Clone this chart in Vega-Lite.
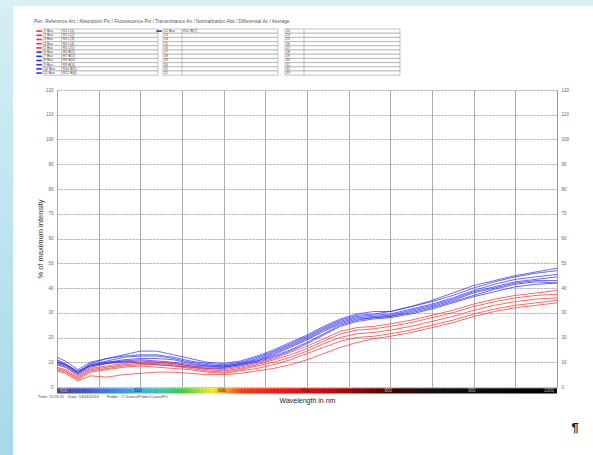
{
"$schema": "https://vega.github.io/schema/vega-lite/v6.json",
"width": 500,
"height": 297,
"autosize": {"type": "none"},
"padding": {"left": 57, "top": 90, "right": 36, "bottom": 68},
"background": "white",
"config": {"font": "Liberation Sans", "view": {"stroke": null}},
"datasets": {
"curves": [
{"wl":400,"B1":12,"B2":11,"B3":10,"B4":9.5,"B5":10.5,"B6":9,"B7":10,"R1":9,"R2":8,"R3":7.5,"R4":7,"R5":6.5},
{"wl":410,"B1":10.5,"B2":9.5,"B3":9,"B4":8.5,"B5":9,"B6":8,"B7":9,"R1":8,"R2":7,"R3":6.5,"R4":6,"R5":5.5},
{"wl":425,"B1":7,"B2":6,"B3":5.5,"B4":5.5,"B5":6.5,"B6":5,"B7":6,"R1":4.5,"R2":4,"R3":3.5,"R4":3,"R5":2.5},
{"wl":440,"B1":10,"B2":9.5,"B3":9,"B4":8.5,"B5":8.5,"B6":8,"B7":9,"R1":7.5,"R2":7,"R3":6.5,"R4":6,"R5":4.5},
{"wl":460,"B1":11.5,"B2":11.5,"B3":10.5,"B4":10,"B5":9.5,"B6":9.5,"B7":10,"R1":8.5,"R2":8,"R3":7.5,"R4":7,"R5":4},
{"wl":480,"B1":13,"B2":12.5,"B3":12,"B4":11,"B5":10,"B6":10.5,"B7":10.5,"R1":9.5,"R2":9,"R3":8.5,"R4":8,"R5":5},
{"wl":500,"B1":14.5,"B2":13,"B3":12.5,"B4":11.5,"B5":10.5,"B6":11,"B7":9.5,"R1":10,"R2":9.5,"R3":9,"R4":8.5,"R5":5.5},
{"wl":520,"B1":14.5,"B2":13,"B3":12.5,"B4":11.5,"B5":10,"B6":10.5,"B7":9,"R1":10,"R2":9.5,"R3":9,"R4":8,"R5":6},
{"wl":540,"B1":13,"B2":12,"B3":11.5,"B4":11,"B5":9.5,"B6":10,"B7":8.5,"R1":9.5,"R2":9,"R3":8.5,"R4":7.5,"R5":6},
{"wl":560,"B1":11.5,"B2":10.5,"B3":10,"B4":9.5,"B5":8.5,"B6":9,"B7":8,"R1":8.5,"R2":8,"R3":7.5,"R4":7,"R5":5.5},
{"wl":580,"B1":10,"B2":9.5,"B3":9,"B4":8.5,"B5":8,"B6":8.5,"B7":7.5,"R1":7.5,"R2":7,"R3":6.5,"R4":6,"R5":5},
{"wl":600,"B1":9.5,"B2":9,"B3":8.5,"B4":8.5,"B5":8,"B6":8,"B7":7.5,"R1":7,"R2":6.5,"R3":6,"R4":5.5,"R5":5},
{"wl":620,"B1":10.5,"B2":10,"B3":9.5,"B4":9.5,"B5":9,"B6":9,"B7":8.5,"R1":8,"R2":7.5,"R3":7,"R4":6.5,"R5":5.5},
{"wl":640,"B1":12.5,"B2":12,"B3":11.5,"B4":11,"B5":10.5,"B6":10.5,"B7":10,"R1":9.5,"R2":9,"R3":8.5,"R4":7.5,"R5":6.5},
{"wl":660,"B1":15,"B2":14.5,"B3":14,"B4":13.5,"B5":13,"B6":12.5,"B7":12,"R1":11.5,"R2":11,"R3":10,"R4":9,"R5":7.5},
{"wl":680,"B1":18,"B2":17.5,"B3":17,"B4":16.5,"B5":16,"B6":15,"B7":14.5,"R1":14,"R2":13,"R3":12,"R4":11,"R5":9},
{"wl":700,"B1":21,"B2":20.5,"B3":20,"B4":19.5,"B5":19,"B6":18,"B7":17.5,"R1":16.5,"R2":15.5,"R3":14.5,"R4":13.5,"R5":11},
{"wl":720,"B1":24.5,"B2":24,"B3":23.5,"B4":23,"B5":22.5,"B6":21.5,"B7":21,"R1":19.5,"R2":18.5,"R3":17.5,"R4":16,"R5":13.5},
{"wl":740,"B1":27.5,"B2":27,"B3":26.5,"B4":26,"B5":25.5,"B6":25,"B7":24.5,"R1":22.5,"R2":21.5,"R3":20,"R4":18.5,"R5":16},
{"wl":760,"B1":29.5,"B2":29,"B3":28.5,"B4":28,"B5":27.5,"B6":27,"B7":26.5,"R1":24,"R2":23,"R3":21.5,"R4":20,"R5":18},
{"wl":780,"B1":30.5,"B2":29.5,"B3":29,"B4":28.5,"B5":28,"B6":28,"B7":27.5,"R1":24.5,"R2":23.5,"R3":22,"R4":20.5,"R5":19.5},
{"wl":800,"B1":30.5,"B2":30.5,"B3":29.5,"B4":29,"B5":28.5,"B6":28.5,"B7":28,"R1":25.5,"R2":24.5,"R3":23,"R4":21.5,"R5":20.5},
{"wl":825,"B1":32.5,"B2":32.5,"B3":31.5,"B4":31,"B5":30.5,"B6":30,"B7":29.5,"R1":27,"R2":26,"R3":24.5,"R4":23,"R5":22},
{"wl":850,"B1":34.5,"B2":35,"B3":33.5,"B4":33,"B5":32.5,"B6":32,"B7":31.5,"R1":29,"R2":28,"R3":26.5,"R4":25,"R5":24},
{"wl":875,"B1":37,"B2":38,"B3":36,"B4":35.5,"B5":35,"B6":34.5,"B7":34,"R1":31,"R2":30,"R3":28.5,"R4":27,"R5":26},
{"wl":900,"B1":40,"B2":41,"B3":39,"B4":38.5,"B5":38,"B6":37,"B7":36.5,"R1":33.5,"R2":32.5,"R3":31,"R4":29.5,"R5":28.5},
{"wl":925,"B1":42.5,"B2":43,"B3":41.5,"B4":40.5,"B5":40,"B6":39.5,"B7":38.5,"R1":35.5,"R2":34.5,"R3":33,"R4":31.5,"R5":30.5},
{"wl":950,"B1":44.5,"B2":45,"B3":43.5,"B4":42.5,"B5":42,"B6":41.5,"B7":40.5,"R1":37,"R2":36,"R3":34.5,"R4":33,"R5":32},
{"wl":975,"B1":46,"B2":46.5,"B3":44.5,"B4":43.5,"B5":43,"B6":42.5,"B7":41.5,"R1":38,"R2":37,"R3":35.5,"R4":34,"R5":33},
{"wl":1000,"B1":47,"B2":48,"B3":45.5,"B4":44.5,"B5":43,"B6":42,"B7":42,"R1":39,"R2":37.5,"R3":36,"R4":35,"R5":34}
],
"tables": [
{"t":1,"r":1,"a":"1 Bas","b":"R1 L(1)","pen":"R1"},
{"t":1,"r":2,"a":"2 Bas","b":"R2 L(2)","pen":"R2"},
{"t":1,"r":3,"a":"3 Bas","b":"R3 L(3)","pen":"R3"},
{"t":1,"r":4,"a":"4 Bas","b":"R4 L(4)","pen":"R4"},
{"t":1,"r":5,"a":"5 Bas","b":"R5 L(5)","pen":"R5"},
{"t":1,"r":6,"a":"6 Bas","b":"R6 B(1)","pen":"B1"},
{"t":1,"r":7,"a":"7 Bas","b":"R7 B(2)","pen":"B2"},
{"t":1,"r":8,"a":"8 Bas","b":"R8 B(3)","pen":"B3"},
{"t":1,"r":9,"a":"9 Bas","b":"R9 B(4)","pen":"B4"},
{"t":1,"r":10,"a":"10 Bas","b":"R10 B(5)","pen":"B5"},
{"t":1,"r":11,"a":"11 Bas","b":"R11 B(6)","pen":"B6"},
{"t":2,"r":1,"a":"12 Bas","b":"R12 B(7)","pen":"B7"},
{"t":2,"r":2,"a":"13","b":"","pen":""},
{"t":2,"r":3,"a":"14","b":"","pen":""},
{"t":2,"r":4,"a":"15","b":"","pen":""},
{"t":2,"r":5,"a":"16","b":"","pen":""},
{"t":2,"r":6,"a":"17","b":"","pen":""},
{"t":2,"r":7,"a":"18","b":"","pen":""},
{"t":2,"r":8,"a":"19","b":"","pen":""},
{"t":2,"r":9,"a":"20","b":"","pen":""},
{"t":2,"r":10,"a":"21","b":"","pen":""},
{"t":2,"r":11,"a":"22","b":"","pen":""},
{"t":3,"r":1,"a":"23","b":"","pen":""},
{"t":3,"r":2,"a":"24","b":"","pen":""},
{"t":3,"r":3,"a":"25","b":"","pen":""},
{"t":3,"r":4,"a":"26","b":"","pen":""},
{"t":3,"r":5,"a":"27","b":"","pen":""},
{"t":3,"r":6,"a":"28","b":"","pen":""},
{"t":3,"r":7,"a":"29","b":"","pen":""},
{"t":3,"r":8,"a":"30","b":"","pen":""},
{"t":3,"r":9,"a":"31","b":"","pen":""},
{"t":3,"r":10,"a":"32","b":"","pen":""},
{"t":3,"r":11,"a":"33","b":"","pen":""}
],
"bandlabels": [
{"wl":400,"t":"400"},{"wl":500,"t":"500"},{"wl":600,"t":"600"},{"wl":700,"t":"700"},{"wl":800,"t":"800"},{"wl":900,"t":"900"},{"wl":1000,"t":"1000"}
]
},
"layer": [
{
"data": {"values": [{}]},
"mark": {"type": "rect", "fill": {"gradient": "linear", "x1": 0, "y1": 0, "x2": 0, "y2": 1, "stops": [{"offset": 0, "color": "#d9f0f6"}, {"offset": 1, "color": "#a2d8e7"}]}},
"encoding": {"x": {"datum": 300, "type": "quantitative"}, "x2": {"datum": 347.2}, "y": {"datum": 170, "type": "quantitative", "axis": null}, "y2": {"datum": -40}}
},
{
"data": {"values": [{}]},
"mark": {"type": "rect", "fill": "#d9f0f6"},
"encoding": {"x": {"datum": 300, "type": "quantitative"}, "x2": {"datum": 1100}, "y": {"datum": 170, "type": "quantitative", "axis": null}, "y2": {"datum": 153.9}}
},
{
"data": {"name": "curves"},
"transform": [{"fold": ["B1","B2","B3","B4","B5","B6","B7","R1","R2","R3","R4","R5"], "as": ["curve", "v"]}],
"mark": {"type": "line", "strokeWidth": 1, "opacity": 0.7, "clip": true},
"encoding": {
"x": {"field": "wl", "type": "quantitative", "scale": {"domain": [400, 1000], "nice": false, "zero": false},
"axis": {"values": [400,450,500,550,600,650,700,750,800,850,900,950,1000], "grid": true, "gridColor": "#ababab", "gridWidth": 1, "labels": false, "ticks": false, "domain": false, "title": "Wavelength in nm", "titleFontSize": 7, "titleFontWeight": "normal", "titleColor": "#1a1a1a", "titlePadding": 9}},
"y": {"field": "v", "type": "quantitative", "scale": {"domain": [0, 120], "nice": false},
"axis": {"values": [0,10,20,30,40,50,60,70,80,90,100,110,120], "grid": true, "gridColor": "#ababab", "gridDash": [2, 1], "labelFontSize": 4.5, "labelColor": "#666666", "labelPadding": 4, "ticks": false, "domain": false, "title": "% of maximum intensity", "titleFontSize": 7.5, "titleFontWeight": "normal", "titleColor": "#333333", "titlePadding": 1}},
"color": {"field": "curve", "type": "nominal", "legend": null,
"scale": {"domain": ["B1","B2","B3","B4","B5","B6","B7","R1","R2","R3","R4","R5"], "range": ["#2a2aff","#2a2aff","#2a2aff","#2a2aff","#2a2aff","#2a2aff","#2a2aff","#ff2828","#ff2828","#ff2828","#ff2828","#ff2828"]}}
}
},
{
"data": {"name": "curves"},
"mark": {"type": "point", "opacity": 0},
"encoding": {
"x": {"field": "wl", "type": "quantitative"},
"y": {"field": "B1", "type": "quantitative", "axis": {"orient": "right", "values": [0,10,20,30,40,50,60,70,80,90,100,110,120], "grid": false, "domain": true, "domainColor": "#9a9a9a", "domainWidth": 1, "ticks": false, "labelFontSize": 4.5, "labelColor": "#666666", "labelPadding": 4, "title": null}}
}
},
{
"data": {"values": [{}]},
"mark": {"type": "rect", "fill": {"gradient": "linear", "x1": 0, "y1": 0, "x2": 1, "y2": 0, "stops": [
{"offset": 0, "color": "#5c3d99"}, {"offset": 0.05, "color": "#4a55c8"}, {"offset": 0.1, "color": "#3a7ee0"}, {"offset": 0.167, "color": "#3cb4e8"}, {"offset": 0.22, "color": "#40c890"}, {"offset": 0.25, "color": "#3ccf3c"}, {"offset": 0.29, "color": "#b8e030"}, {"offset": 0.31, "color": "#f0e818"}, {"offset": 0.335, "color": "#ffa020"}, {"offset": 0.37, "color": "#ff3c18"}, {"offset": 0.45, "color": "#ff1010"}, {"offset": 0.52, "color": "#e00808"}, {"offset": 0.6, "color": "#900404"}, {"offset": 0.68, "color": "#400000"}, {"offset": 0.75, "color": "#101010"}, {"offset": 1, "color": "#000000"}]}},
"encoding": {"x": {"datum": 400, "type": "quantitative"}, "x2": {"datum": 1000}, "y": {"datum": -0.5, "type": "quantitative", "axis": null}, "y2": {"datum": -2.6}}
},
{
"data": {"name": "bandlabels"},
"transform": [{"filter": "datum.wl > 400 && datum.wl < 1000"}],
"mark": {"type": "text", "fontSize": 4.5, "baseline": "middle", "align": "center", "dx": -2},
"encoding": {"x": {"field": "wl", "type": "quantitative"}, "y": {"datum": -1.55, "type": "quantitative", "axis": null}, "text": {"field": "t"},
"color": {"condition": {"test": "datum.wl >= 800", "value": "#bbbbbb"}, "value": "#333333"}}
},
{
"data": {"name": "bandlabels"},
"transform": [{"filter": "datum.wl == 400"}],
"mark": {"type": "text", "fontSize": 4.5, "baseline": "middle", "align": "left", "dx": 3, "color": "#bbbbbb"},
"encoding": {"x": {"field": "wl", "type": "quantitative"}, "y": {"datum": -1.55, "type": "quantitative", "axis": null}, "text": {"field": "t"}}
},
{
"data": {"name": "bandlabels"},
"transform": [{"filter": "datum.wl == 1000"}],
"mark": {"type": "text", "fontSize": 4.5, "baseline": "middle", "align": "right", "dx": -3, "color": "#bbbbbb"},
"encoding": {"x": {"field": "wl", "type": "quantitative"}, "y": {"datum": -1.55, "type": "quantitative", "axis": null}, "text": {"field": "t"}}
},
{
"data": {"name": "tables"},
"transform": [
{"calculate": "datum.t == 1 ? 383.2 : datum.t == 2 ? 527.2 : 673.6", "as": "left"},
{"calculate": "datum.t == 1 ? 405.6 : datum.t == 2 ? 550 : 696.4", "as": "div"},
{"calculate": "datum.t == 1 ? 521.2 : datum.t == 2 ? 665 : 811.6", "as": "right"},
{"calculate": "144.65 - (datum.r - 1) * 1.697", "as": "top"},
{"calculate": "datum.top - 1.697", "as": "bot"},
{"calculate": "datum.top - 0.85", "as": "mid"},
{"calculate": "datum.left + 1.3", "as": "ta"},
{"calculate": "datum.div + 1.3", "as": "tb"},
{"calculate": "datum.left - 8", "as": "m1"},
{"calculate": "datum.left - 1.5", "as": "m2"}
],
"layer": [
{
"mark": {"type": "rect", "fill": "white", "stroke": "#9a9a9a", "strokeWidth": 0.6},
"encoding": {"x": {"field": "left", "type": "quantitative"}, "x2": {"field": "right"}, "y": {"field": "top", "type": "quantitative", "axis": null}, "y2": {"field": "bot"}}
},
{
"mark": {"type": "rule", "stroke": "#9a9a9a", "strokeWidth": 0.6},
"encoding": {"x": {"field": "div", "type": "quantitative"}, "y": {"field": "top", "type": "quantitative", "axis": null}, "y2": {"field": "bot"}}
},
{
"mark": {"type": "text", "fontSize": 3.5, "align": "left", "baseline": "middle", "color": "#444444"},
"encoding": {"x": {"field": "ta", "type": "quantitative"}, "y": {"field": "mid", "type": "quantitative", "axis": null}, "text": {"field": "a"}}
},
{
"mark": {"type": "text", "fontSize": 3.5, "align": "left", "baseline": "middle", "color": "#444444"},
"encoding": {"x": {"field": "tb", "type": "quantitative"}, "y": {"field": "mid", "type": "quantitative", "axis": null}, "text": {"field": "b"}}
},
{
"transform": [{"filter": "datum.pen != ''"}],
"mark": {"type": "rule", "strokeWidth": 1.6},
"encoding": {"x": {"field": "m1", "type": "quantitative"}, "x2": {"field": "m2"}, "y": {"field": "mid", "type": "quantitative", "axis": null},
"color": {"field": "pen", "type": "nominal", "legend": null}}
}
]
},
{
"data": {"values": [{}]},
"mark": {"type": "text", "text": "Pen: Reference Arc / Absorption Pix / Fluorescence Pix / Transmittance Ax / Normalization Abs / Differential Ax / Average", "fontSize": 4.8, "align": "left", "baseline": "middle", "color": "#555555"},
"encoding": {"x": {"datum": 372.4, "type": "quantitative"}, "y": {"datum": 147.4, "type": "quantitative", "axis": null}}
},
{
"data": {"values": [{}]},
"mark": {"type": "text", "text": "Time: 11:59:11", "fontSize": 4, "align": "left", "baseline": "middle", "color": "#444444"},
"encoding": {"x": {"datum": 377.2, "type": "quantitative"}, "y": {"datum": -4.0, "type": "quantitative", "axis": null}}
},
{
"data": {"values": [{}]},
"mark": {"type": "text", "text": "Date: 14/06/2016", "fontSize": 4, "align": "left", "baseline": "middle", "color": "#444444"},
"encoding": {"x": {"datum": 413.2, "type": "quantitative"}, "y": {"datum": -4.0, "type": "quantitative", "axis": null}}
},
{
"data": {"values": [{}]},
"mark": {"type": "text", "text": "Folder : C:\\Users\\Public\\Cases\\Pr\\", "fontSize": 4, "align": "left", "baseline": "middle", "color": "#444444"},
"encoding": {"x": {"datum": 460, "type": "quantitative"}, "y": {"datum": -4.0, "type": "quantitative", "axis": null}}
},
{
"data": {"values": [{}]},
"mark": {"type": "text", "text": "¶", "fontSize": 13, "fontWeight": "bold", "align": "center", "baseline": "middle", "color": "#222222"},
"encoding": {"x": {"datum": 1021.6, "type": "quantitative"}, "y": {"datum": -16.6, "type": "quantitative", "axis": null}}
}
],
"resolve": {"axis": {"y": "independent"}}
}
